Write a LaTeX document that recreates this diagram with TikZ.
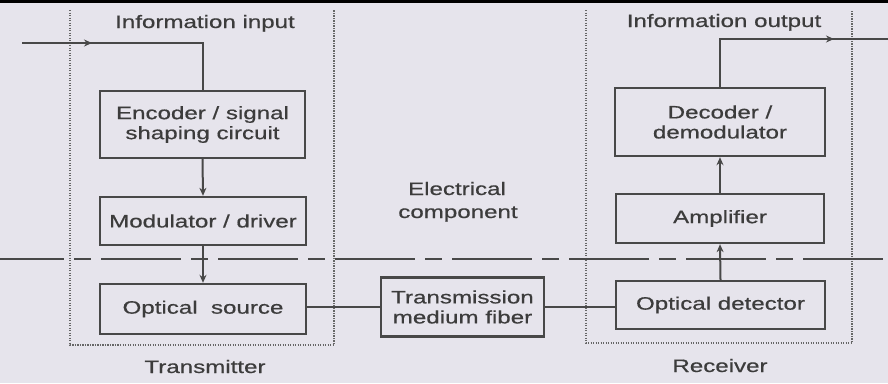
\documentclass[tikz,border=0pt]{standalone}
\usepackage{fontspec}
\setmainfont{Liberation Sans}[FakeStretch=1.34,FakeBold=0.6]
\usetikzlibrary{arrows.meta}
\definecolor{bg}{HTML}{E6E4EC}
\definecolor{ink}{HTML}{484848}
\definecolor{txt}{HTML}{3C3C3C}
\definecolor{dotc}{HTML}{666666}
\begin{document}
\begin{tikzpicture}[x=1pt,y=-1pt,
  box/.style={draw=ink, line width=2.4pt, text=txt, align=center, inner sep=0pt,
    font=\fontsize{18}{20}\selectfont},
  lbl/.style={text=txt, inner sep=0pt, anchor=base, font=\fontsize{18}{20}\selectfont},
  conn/.style={draw=ink, line width=2pt},
  arr/.style={conn, -{Stealth[length=8pt,width=7pt]}},
  bound/.style={draw=dotc, line width=1.3pt, dash pattern=on 1.2pt off 1.3pt}]
\fill[bg] (0,0) rectangle (888,383);
\useasboundingbox (0,0) rectangle (888,383);
\draw[black, line width=3pt] (0,1.5) -- (888,1.5);

% dotted boundaries
\draw[bound] (70,10) -- (70,345) -- (334,345) -- (334,10);
\draw[bound] (586,10) -- (586,343) -- (852,343) -- (852,10);

% separator
\draw[ink, line width=2.3pt, dash pattern=on 80pt off 10pt on 17pt off 10pt, dash phase=16pt]
  (0,259) -- (888,259);

% boxes
\node[box, minimum width=205pt, minimum height=67pt] (enc) at (202.5,124.5) {Encoder / signal\\shaping circuit};
\node[box, minimum width=206pt, minimum height=48pt] (mod) at (203,221) {Modulator / driver};
\node[box, minimum width=206pt, minimum height=50pt] (src) at (203,309) {Optical\ \ source};
\node[box, minimum width=163pt, minimum height=59pt] (trm) at (462.5,307) {Transmission\\medium fiber};
\node[box, minimum width=209pt, minimum height=48pt] (det) at (720.5,305) {Optical detector};
\node[box, minimum width=208pt, minimum height=49pt] (amp) at (720,218.5) {Amplifier};
\node[box, minimum width=210pt, minimum height=68pt] (dec) at (720,122) {Decoder /\\demodulator};

% labels
\node[lbl] (tin) at (205,28) {Information input};
\node[lbl] (tout) at (724,27) {Information output};
\node[lbl] (ec1) at (457,195) {Electrical};
\node[lbl] (ec2) at (458,218) {component};
\node[lbl] (tx) at (205,373) {Transmitter};
\node[lbl] (rx) at (720,372) {Receiver};

% input
\coordinate (inS) at (22,43);
\coordinate (inM) at (92,43);
\draw[conn] (inS) -- (enc.north |- inS) -- (enc.north);
\draw[arr] (inS) -- (inM);

% transmitter chain
\draw[arr] (enc.south) -- (mod.north);
\draw[arr] (mod.south) -- (src.north);
\draw[conn] (src.east |- trm.west) -- (trm.west);
\draw[conn] (trm.east) -- (det.west |- trm.east);

% receiver chain
\draw[arr] (det.north) -- (amp.south);
\draw[arr] (amp.north) -- (dec.south);

% output
\coordinate (outE) at (888,39);
\coordinate (outM) at (834,39);
\draw[conn] (dec.north) -- (dec.north |- outE) -- (outE);
\draw[arr] (dec.north |- outE) -- (outM);
\end{tikzpicture}
\end{document}
